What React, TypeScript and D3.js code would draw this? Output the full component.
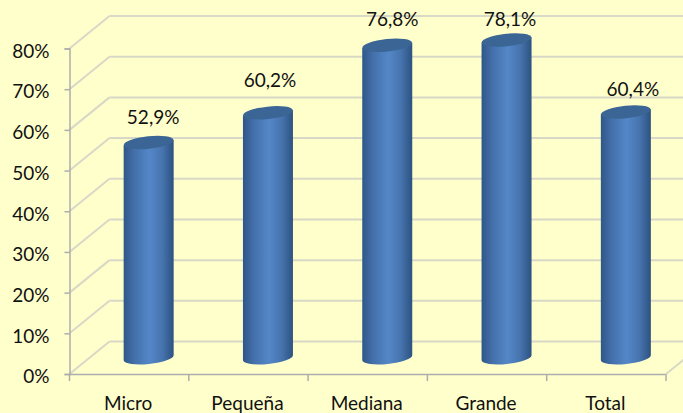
import { useEffect, useRef } from 'react';
import * as d3 from 'd3';

const categories = ['Micro', 'Pequeña', 'Mediana', 'Grande', 'Total'];
const values = [52.9, 60.2, 76.8, 78.1, 60.4];
const valueLabels = ['52,9%', '60,2%', '76,8%', '78,1%', '60,4%'];
const yTicks = [0, 10, 20, 30, 40, 50, 60, 70, 80];

// hand placement of the value labels, relative to the top of each bar
const labelNudgeX = [4.5, 2, 5, 3.5, 7];
const labelNudgeY = [-19, -26, -19, -14, -16];

const width = 683;
const height = 413;
const plot = { left: 69.5, right: 666, top: 48.5, bottom: 374 };
const depth = { x: 40, y: -32.5 };
const barWidth = 50;
const barRy = 6.2;
const tilt = -6;
const fontSize = '19px';
const fontFamily = 'Lato, sans-serif';

const background = '#ffffcc';
const gridColor = '#d8d8c6';
const axisColor = '#adadad';
const textColor = '#111111';
const topColor = '#3b6594';

export default function App() {
  const ref = useRef<SVGSVGElement>(null);

  useEffect(() => {
    const { current: dom } = ref;
    if (!dom) {
      return;
    }
    const svg = d3.select(dom);
    svg.selectAll('*').remove();

    const xScale = d3.scaleBand().domain(categories).range([plot.left, plot.right]);
    const yScale = d3.scaleLinear().domain([0, 80]).range([plot.bottom, plot.top]);

    const defs = svg.append('defs');
    const grad = defs
      .append('linearGradient')
      .attr('id', 'cylinder')
      .attr('x1', '0%')
      .attr('x2', '100%');
    grad.append('stop').attr('offset', '0%').attr('stop-color', '#2f5788');
    grad.append('stop').attr('offset', '22%').attr('stop-color', '#4470ab');
    grad.append('stop').attr('offset', '52%').attr('stop-color', '#5487c8');
    grad.append('stop').attr('offset', '78%').attr('stop-color', '#4673ad');
    grad.append('stop').attr('offset', '100%').attr('stop-color', '#2c5280');

    // back wall and side wall gridlines
    const grid = svg.append('g').attr('fill', 'none').attr('stroke', gridColor).attr('stroke-width', 2);
    grid
      .selectAll('line.back')
      .data(yTicks)
      .join('line')
      .attr('class', 'back')
      .attr('x1', plot.left + depth.x)
      .attr('x2', plot.right + depth.x)
      .attr('y1', (d) => yScale(d) + depth.y)
      .attr('y2', (d) => yScale(d) + depth.y);
    grid
      .selectAll('line.side')
      .data(yTicks)
      .join('line')
      .attr('class', 'side')
      .attr('x1', plot.left)
      .attr('x2', plot.left + depth.x)
      .attr('y1', (d) => yScale(d))
      .attr('y2', (d) => yScale(d) + depth.y);
    grid
      .append('line')
      .attr('x1', plot.right)
      .attr('x2', plot.right + depth.x)
      .attr('y1', yScale(0))
      .attr('y2', yScale(0) + depth.y);

    // axes
    const yAxis = svg
      .append('g')
      .attr('transform', `translate(${plot.left},0)`)
      .call(
        d3
          .axisLeft(yScale)
          .tickValues(yTicks)
          .tickSize(5)
          .tickPadding(15)
          .tickFormat((d) => `${d}%`),
      );
    yAxis.selectAll('text').attr('dy', '0.46em');
    const xAxis = svg
      .append('g')
      .attr('transform', `translate(-1,${plot.bottom})`)
      .call(d3.axisBottom(xScale).tickSize(0).tickPadding(23));
    xAxis
      .selectAll('line.edge')
      .data(d3.range(categories.length + 1))
      .join('line')
      .attr('class', 'edge')
      .attr('x1', (i) => plot.left + 1 + i * xScale.step())
      .attr('x2', (i) => plot.left + 1 + i * xScale.step())
      .attr('y1', 0)
      .attr('y2', 7);

    [yAxis, xAxis].forEach((axis) => {
      axis.selectAll('path, line').attr('stroke', axisColor).attr('stroke-width', 1.5);
      axis
        .selectAll('text')
        .attr('fill', textColor)
        .style('font-family', fontFamily)
        .style('font-size', fontSize);
    });

    // cylinders, centred on the floor between the front axis and the back wall
    const barX = (c: string) => xScale(c)! + xScale.bandwidth() / 2 + depth.x / 2 - 0.5;
    const barY = (v: number) => yScale(v) + depth.y / 2;
    const rx = barWidth / 2;
    const rise = rx * Math.sin((-tilt * Math.PI) / 180);

    const bars = svg
      .append('g')
      .selectAll('g')
      .data(categories.map((c, i) => ({ c, v: values[i], label: valueLabels[i], i })))
      .join('g');

    bars
      .append('path')
      .attr('fill', 'url(#cylinder)')
      .attr('d', (d) => {
        const cx = barX(d.c);
        const top = barY(d.v);
        const base = barY(0);
        return [
          `M${cx - rx},${top + rise}`,
          `L${cx - rx},${base + rise}`,
          `A${rx},${barRy} ${tilt} 0 0 ${cx + rx},${base - rise}`,
          `L${cx + rx},${top - rise}`,
          'Z',
        ].join(' ');
      });

    bars
      .append('ellipse')
      .attr('fill', topColor)
      .attr('rx', rx)
      .attr('ry', barRy)
      .attr('transform', (d) => `translate(${barX(d.c)},${barY(d.v)}) rotate(${tilt})`);

    bars
      .append('text')
      .attr('x', (d) => barX(d.c) + labelNudgeX[d.i])
      .attr('y', (d) => barY(d.v) + labelNudgeY[d.i])
      .attr('text-anchor', 'middle')
      .attr('fill', textColor)
      .style('font-family', fontFamily)
      .style('font-size', fontSize)
      .text((d) => d.label);
  }, []);

  return (
    <svg
      ref={ref}
      width={width}
      height={height}
      style={{ position: 'fixed', left: 0, top: 0, background, display: 'block' }}
    />
  );
}
